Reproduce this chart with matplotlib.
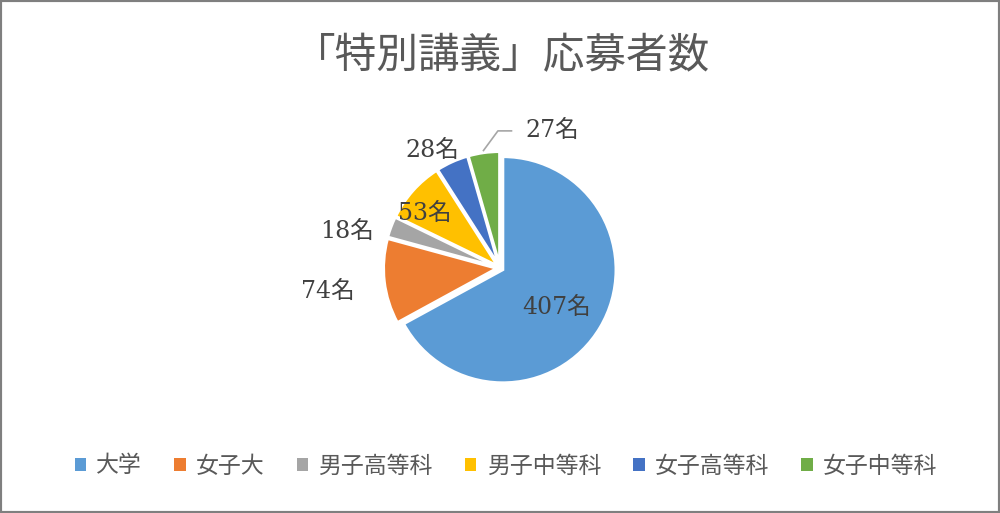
import numpy as np
import matplotlib
matplotlib.use("Agg")
import matplotlib.pyplot as plt
from matplotlib.patches import Rectangle

title = "「特別講義」応募者数"
categories = ["大学", "女子大", "男子高等科", "男子中等科", "女子高等科", "女子中等科"]
values = [407, 74, 18, 53, 28, 27]
colors = ["#5B9BD5", "#ED7D31", "#A5A5A5", "#FFC000", "#4472C4", "#70AD47"]
# label placement (radius factor, angle offset deg) -- style only
label_r = [0.56, 1.50, 1.37, 0.81, 1.20, 1.30]
label_da = [-2, 0, 6, 4, 5, -29]

cjk = "Noto Sans CJK JP"
num_fam = ["DejaVu Serif", cjk]

W, H = 1000, 513
fig = plt.figure(figsize=(W / 100, H / 100), dpi=100)
fig.patch.set_facecolor("white")
fig.add_artist(Rectangle((0, 0), 1, 1, transform=fig.transFigure, fill=False,
                         edgecolor="#7F7F7F", linewidth=3))

rpx = 113
cxp, cyp = 500, 268
ax = fig.add_axes([(cxp - rpx) / W, (H - cyp - rpx) / H, 2 * rpx / W, 2 * rpx / H])
R = 1.0
wedges, _ = ax.pie(values, colors=colors, startangle=90, counterclock=False,
                   radius=R, explode=[0.03] * len(values),
                   wedgeprops=dict(edgecolor="white", linewidth=2))

for i, w in enumerate(wedges):
    mid = np.deg2rad((w.theta1 + w.theta2) / 2 + label_da[i])
    cx, cy = w.center
    r = label_r[i] * R
    x, y = cx + r * np.cos(mid), cy + r * np.sin(mid) - 0.03
    ax.text(x, y, f"{values[i]}名", ha="center", va="center",
            fontsize=17, color="#404040", family=num_fam)
    if i == len(values) - 1:
        m0 = np.deg2rad((w.theta1 + w.theta2) / 2)
        p0 = (cx + 1.02 * R * np.cos(m0), cy + 1.02 * R * np.sin(m0))
        p1 = (x - 0.48, y)
        p2 = (x - 0.36, y)
        ax.plot([p0[0], p1[0], p2[0]], [p0[1], p1[1], p2[1]],
                color="#A6A6A6", linewidth=1.2, clip_on=False)

ax.set_xlim(-1, 1)
ax.set_ylim(-1, 1)
ax.set_aspect("auto")
ax.axis("off")

fig.text(0.502, 1 - 57 / H, title, ha="center", va="center", fontsize=30,
         color="#595959", family=[cjk])

handles = [Rectangle((0, 0), 1, 1, facecolor=c, edgecolor="none") for c in colors]
leg = fig.legend(handles, categories, loc="center", bbox_to_anchor=(0.506, 1 - 466 / H),
                 ncol=6, frameon=False, handlelength=0.5, handleheight=0.5,
                 handletextpad=0.45, columnspacing=1.4,
                 prop={"family": cjk, "size": 16.5})
for t in leg.get_texts():
    t.set_color("#595959")

fig.savefig("out.png", dpi=100, facecolor="white")
